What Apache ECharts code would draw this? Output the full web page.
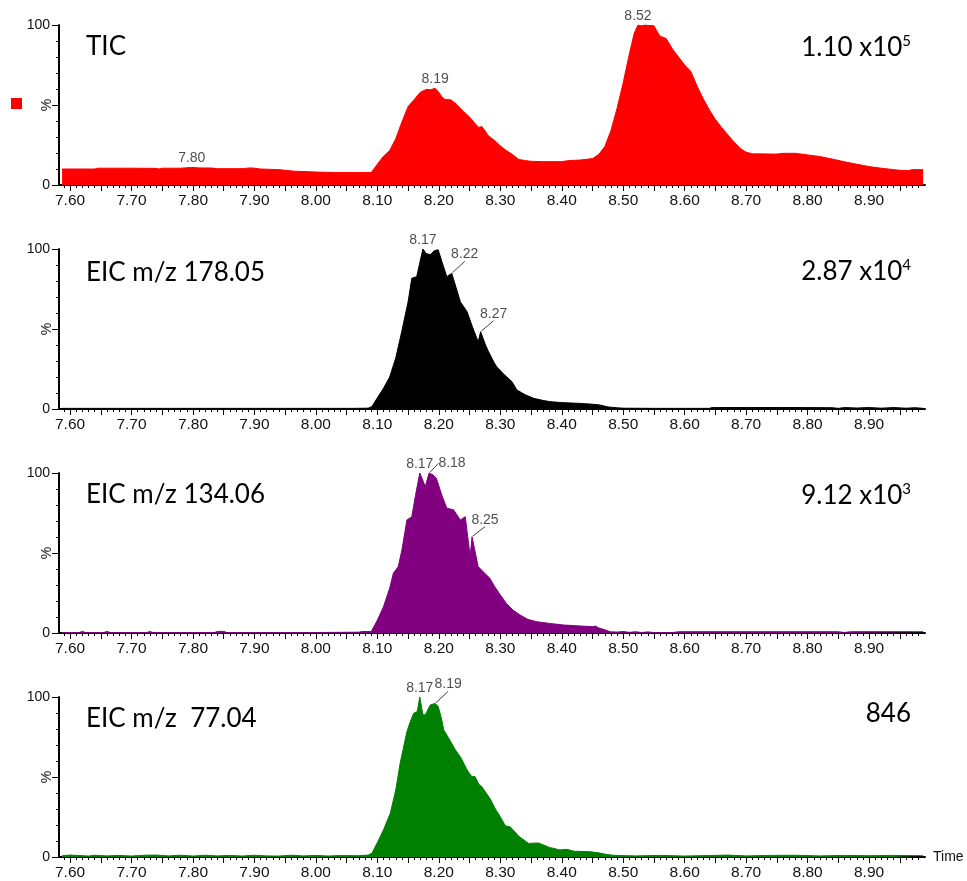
<!DOCTYPE html>
<html>
<head>
<meta charset="utf-8">
<script src="https://cdn.jsdelivr.net/npm/echarts@6/dist/echarts.min.js"></script>
<style>
  html, body { margin: 0; padding: 0; background: #ffffff; }
  #chart { width: 967px; height: 881px; }
</style>
</head>
<body>
<div id="chart"></div>
<script>
// ---- Chromatogram data (retention time in min, relative intensity in %) ----

const xLabelValues = [7.60, 7.70, 7.80, 7.90, 8.00, 8.10, 8.20, 8.30, 8.40, 8.50, 8.60, 8.70, 8.80, 8.90];

const panelTitles = ['TIC', 'EIC m/z 178.05', 'EIC m/z 134.06', 'EIC m/z  77.04'];
const intensityMantissa = ['1.10 x10', '2.87 x10', '9.12 x10', '846'];
const intensityExponent = ['5', '4', '3', ''];

// TIC
const ticTime = [7.587, 7.600, 7.640, 7.645, 7.700, 7.740, 7.745, 7.750, 7.780, 7.798, 7.810, 7.830, 7.840,
  7.880, 7.893, 7.900, 7.910, 7.940, 7.950, 7.965, 7.990, 8.000, 8.030, 8.060, 8.090, 8.100, 8.110, 8.120,
  8.130, 8.140, 8.150, 8.160, 8.170, 8.180, 8.186, 8.194, 8.200, 8.205, 8.210, 8.220, 8.230, 8.240, 8.250,
  8.260, 8.265, 8.270, 8.275, 8.280, 8.290, 8.300, 8.310, 8.320, 8.330, 8.340, 8.350, 8.370, 8.400, 8.410,
  8.430, 8.450, 8.460, 8.470, 8.480, 8.490, 8.500, 8.510, 8.518, 8.524, 8.530, 8.535, 8.550, 8.555, 8.560,
  8.570, 8.580, 8.590, 8.600, 8.610, 8.620, 8.630, 8.640, 8.650, 8.660, 8.670, 8.680, 8.690, 8.700, 8.710,
  8.750, 8.760, 8.780, 8.800, 8.820, 8.840, 8.860, 8.880, 8.900, 8.920, 8.940, 8.955, 8.965, 8.970, 8.988];
const ticValue = [10.0, 10.0, 10.0, 10.5, 10.5, 10.4, 10.0, 10.5, 10.5, 11.0, 10.7, 10.6, 10.2,
  10.2, 10.7, 10.5, 10.0, 9.6, 9.2, 8.6, 8.3, 8.1, 7.8, 7.8, 7.8, 13.0, 18.0, 21.5,
  29.0, 39.5, 49.0, 53.5, 58.0, 59.8, 59.5, 60.4, 58.0, 55.0, 53.5, 53.2, 50.0, 46.0, 42.5,
  38.0, 36.0, 36.5, 34.0, 31.0, 28.0, 24.5, 21.5, 19.0, 16.0, 15.3, 14.8, 14.6, 14.6, 15.2,
  15.6, 16.5, 19.0, 24.0, 34.0, 48.0, 64.0, 82.0, 95.0, 100.0, 99.5, 100.0, 99.5, 96.0, 93.0,
  91.5, 85.0, 80.0, 75.0, 71.0, 62.0, 54.0, 47.0, 41.0, 36.0, 31.5, 27.0, 23.0, 20.5, 19.5,
  19.3, 19.8, 19.8, 18.8, 17.8, 16.2, 14.5, 13.0, 11.5, 10.5, 9.6, 9.0, 9.0, 9.6, 9.6];
const ticPeakTime = [7.798, 8.194, 8.524];
const ticPeakValue = [11.0, 60.4, 100.0];

// EIC m/z 178.05
const eic178Time = [7.587, 7.650, 7.700, 7.800, 7.900, 8.000, 8.060, 8.085, 8.091, 8.100, 8.110, 8.120, 8.130,
  8.140, 8.150, 8.156, 8.164, 8.170, 8.174, 8.180, 8.186, 8.193, 8.199, 8.205, 8.213, 8.221, 8.228, 8.235,
  8.246, 8.255, 8.264, 8.268, 8.276, 8.281, 8.290, 8.294, 8.305, 8.315, 8.319, 8.327, 8.340, 8.354, 8.370,
  8.381, 8.400, 8.430, 8.450, 8.462, 8.475, 8.489, 8.500, 8.550, 8.640, 8.645, 8.700, 8.750, 8.800, 8.840,
  8.850, 8.860, 8.880, 8.900, 8.920, 8.940, 8.960, 8.975, 8.988];
const eic178Value = [0.4, 0.4, 0.4, 0.4, 0.4, 0.4, 0.4, 0.5, 1.5, 7.0, 13.0, 20.0, 32.0,
  49.0, 67.0, 81.7, 82.7, 93.0, 100.0, 97.0, 96.5, 99.0, 99.5, 92.0, 82.7, 84.8, 76.0, 67.0,
  60.8, 51.0, 42.0, 48.3, 40.0, 35.8, 29.0, 26.5, 22.0, 18.5, 17.1, 11.9, 9.0, 6.7, 5.3,
  4.6, 4.0, 3.5, 3.0, 2.5, 1.3, 0.8, 0.5, 0.4, 0.4, 0.9, 0.9, 0.9, 0.9, 0.8,
  0.4, 0.9, 0.6, 0.9, 0.5, 0.9, 0.5, 0.8, 0.4];
const eic178PeakTime = [8.174, 8.221, 8.268];
const eic178PeakValue = [100.0, 84.8, 48.3];

// EIC m/z 134.06
const eic134Time = [7.587, 7.615, 7.620, 7.625, 7.655, 7.660, 7.665, 7.725, 7.730, 7.735, 7.835, 7.840, 7.850,
  7.855, 8.000, 8.070, 8.075, 8.090, 8.092, 8.100, 8.110, 8.120, 8.126, 8.134, 8.140, 8.148, 8.156, 8.162,
  8.169, 8.178, 8.184, 8.190, 8.196, 8.205, 8.213, 8.224, 8.235, 8.243, 8.251, 8.254, 8.264, 8.273, 8.283,
  8.290, 8.300, 8.310, 8.320, 8.332, 8.345, 8.359, 8.380, 8.403, 8.430, 8.451, 8.455, 8.460, 8.470, 8.479,
  8.490, 8.500, 8.510, 8.520, 8.530, 8.540, 8.550, 8.580, 8.590, 8.850, 8.860, 8.870, 8.988];
const eic134Value = [0.3, 0.3, 1.0, 0.3, 0.3, 1.0, 0.3, 0.3, 0.9, 0.3, 0.3, 1.0, 1.0,
  0.3, 0.3, 0.5, 0.9, 0.9, 2.0, 8.0, 16.5, 28.0, 37.3, 41.5, 52.0, 70.6, 72.7, 86.0,
  100.0, 91.5, 99.8, 99.0, 96.7, 86.0, 78.0, 77.0, 70.6, 72.7, 47.7, 60.2, 41.5, 38.0, 34.2,
  29.5, 23.8, 18.5, 14.5, 11.3, 8.5, 7.1, 6.0, 5.0, 4.4, 3.9, 4.3, 3.2, 2.0, 0.8,
  0.6, 0.9, 0.4, 0.8, 0.3, 0.7, 0.3, 0.3, 0.8, 0.8, 0.3, 0.8, 0.8];
const eic134PeakTime = [8.169, 8.184, 8.254];
const eic134PeakValue = [100.0, 99.8, 60.2];

// EIC m/z 77.04
const eic77Time = [7.587, 7.600, 7.630, 7.640, 7.660, 7.680, 7.700, 7.720, 7.740, 7.760, 7.780, 7.800, 7.820,
  7.840, 7.860, 7.880, 7.900, 7.920, 7.940, 7.960, 7.980, 8.000, 8.020, 8.040, 8.070, 8.085, 8.091, 8.100,
  8.110, 8.121, 8.130, 8.137, 8.148, 8.153, 8.159, 8.165, 8.169, 8.174, 8.178, 8.186, 8.194, 8.199, 8.204,
  8.208, 8.218, 8.227, 8.236, 8.246, 8.253, 8.259, 8.265, 8.270, 8.277, 8.283, 8.292, 8.300, 8.308, 8.316,
  8.330, 8.346, 8.362, 8.380, 8.397, 8.408, 8.420, 8.446, 8.460, 8.470, 8.479, 8.490, 8.520, 8.560, 8.600,
  8.640, 8.670, 8.700, 8.740, 8.780, 8.820, 8.860, 8.900, 8.940, 8.988];
const eic77Value = [0.8, 1.2, 0.6, 1.1, 0.7, 1.0, 0.6, 1.1, 1.2, 0.7, 1.1, 0.6, 1.1,
  0.7, 1.0, 0.6, 1.1, 0.7, 0.6, 1.1, 0.7, 1.0, 0.6, 0.9, 0.8, 1.2, 2.3, 9.0,
  17.0, 27.3, 42.0, 58.5, 78.3, 84.0, 89.8, 91.0, 100.0, 89.0, 88.8, 95.0, 96.0, 94.0, 87.0,
  79.4, 73.0, 66.9, 62.0, 54.4, 50.5, 50.2, 45.5, 43.9, 40.0, 36.7, 30.0, 25.2, 19.5, 18.9,
  13.0, 8.5, 8.8, 6.0, 4.4, 4.8, 3.6, 3.3, 2.6, 1.8, 1.3, 0.9, 0.7, 1.0, 0.6,
  0.9, 1.2, 0.7, 1.0, 1.1, 0.7, 1.0, 0.8, 1.0, 0.8];
const eic77PeakTime = [8.169, 8.194];
const eic77PeakValue = [100.0, 96.0];

// ---- Layout & styling ----
const panels = [
  { time: ticTime, value: ticValue, peakT: ticPeakTime, peakV: ticPeakValue, color: '#ff0000', name: 'TIC' },
  { time: eic178Time, value: eic178Value, peakT: eic178PeakTime, peakV: eic178PeakValue, color: '#000000', name: 'EIC 178.05' },
  { time: eic134Time, value: eic134Value, peakT: eic134PeakTime, peakV: eic134PeakValue, color: '#800080', name: 'EIC 134.06' },
  { time: eic77Time, value: eic77Value, peakT: eic77PeakTime, peakV: eic77PeakValue, color: '#008000', name: 'EIC 77.04' }
];

// label nudges for peak annotations drawn with a leader line: [panel][peak] -> {dx, dy}
const peakLabelShift = [
  [null, null, null],
  [null, { dx: 13, dy: -10 }, { dx: 13, dy: -9 }],
  [null, { dx: 23, dy: -1 }, { dx: 13, dy: -8 }],
  [null, { dx: 13, dy: -10 }]
];

const gridTops = [25, 249, 473, 697];
const gridHeight = 160;
const gridLeft = 59;
const gridRight = 42;
const xMin = 7.582, xMax = 8.991;

const tickFont = '"Liberation Sans", Arial, sans-serif';
const titleFont = 'Lato, "Open Sans", sans-serif';
const textColor = '#111';

const majorTicks = [];
for (let i = 0; i <= 27; i++) majorTicks.push(+(7.60 + i * 0.05).toFixed(2));
const minorTicks = [];
for (let i = 0; i <= 139; i++) minorTicks.push(+(7.59 + i * 0.01).toFixed(2));

const grids = [], xAxes = [], yAxes = [], series = [], graphics = [];

panels.forEach((p, i) => {
  grids.push({ left: gridLeft, right: gridRight, top: gridTops[i], height: gridHeight, containLabel: false });

  xAxes.push({
    type: 'value', gridIndex: i, position: 'bottom', min: xMin, max: xMax,
    axisLine: { show: true, onZero: false, lineStyle: { color: '#000', width: 2 } },
    axisTick: { show: true, length: 6, customValues: majorTicks, lineStyle: { color: '#000', width: 1 } },
    axisLabel: {
      show: true, customValues: xLabelValues, margin: 8,
      formatter: v => v.toFixed(2),
      fontFamily: tickFont, fontSize: 15.5, color: textColor
    },
    splitLine: { show: false },
    name: i === 3 ? 'Time' : '', nameLocation: 'end', nameGap: 8,
    nameTextStyle: { fontFamily: tickFont, fontSize: 14, color: textColor, verticalAlign: 'middle' }
  });
  xAxes.push({
    type: 'value', gridIndex: i, position: 'bottom', min: xMin, max: xMax,
    axisLine: { show: false, onZero: false },
    axisTick: { show: true, length: 3, customValues: minorTicks, lineStyle: { color: '#000', width: 1 } },
    axisLabel: { show: false },
    splitLine: { show: false }
  });

  yAxes.push({
    type: 'value', gridIndex: i, position: 'left', min: 0, max: 100, interval: 50,
    axisLine: { show: true, lineStyle: { color: '#000', width: 2 } },
    axisTick: { show: true, length: 7, lineStyle: { color: '#000', width: 1 } },
    minorTick: { show: true, splitNumber: 5, length: 3, lineStyle: { color: '#000', width: 1 } },
    axisLabel: {
      margin: 9, fontFamily: tickFont, fontSize: 14, color: textColor,
      formatter: v => (v === 50 ? '' : String(v))
    },
    splitLine: { show: false },
    name: '%', nameLocation: 'middle', nameRotate: 90, nameGap: 5, nameMoveOverlap: false,
    nameTextStyle: { fontFamily: tickFont, fontSize: 14, color: textColor }
  });

  series.push({
    name: p.name, type: 'line', xAxisIndex: 2 * i, yAxisIndex: i,
    data: p.time.map((t, k) => [t, p.value[k]]),
    showSymbol: false, symbol: 'none', smooth: false, silent: true,
    lineStyle: { color: p.color, width: 1 },
    itemStyle: { color: p.color },
    areaStyle: { color: p.color, opacity: 1 }
  });

  series.push({
    type: 'scatter', xAxisIndex: 2 * i, yAxisIndex: i, silent: true,
    symbolSize: 2, itemStyle: { color: 'rgba(0,0,0,0)' },
    data: p.peakT.map((t, k) => {
      const shift = peakLabelShift[i][k];
      const item = { value: [t, p.peakV[k]] };
      if (shift) {
        item.labelLine = { show: true, lineStyle: { color: '#444', width: 1 } };
      }
      return item;
    }),
    label: {
      show: true, position: 'top', distance: 1,
      formatter: prm => prm.value[0].toFixed(2),
      fontFamily: tickFont, fontSize: 14, color: '#222'
    },
    labelLayout: prm => {
      const shift = peakLabelShift[i][prm.dataIndex];
      return shift ? { dx: shift.dx, dy: shift.dy } : {};
    },
    labelLine: { show: false, lineStyle: { color: '#444', width: 1 } }
  });

  // panel caption on the left
  graphics.push({
    type: 'text', left: 86, top: gridTops[i] + 9 + (i === 1 ? 2 : 0),
    style: { text: panelTitles[i], font: '26px ' + titleFont, fill: '#000' }
  });
  // base peak intensity on the right
  const expo = intensityExponent[i];
  graphics.push({
    type: 'text', right: 56, top: gridTops[i] + 9 + (i === 3 ? -5 : 0),
    style: {
      text: expo ? intensityMantissa[i] + '{s|' + expo + '}' : intensityMantissa[i],
      font: '26px ' + titleFont, fill: '#000',
      rich: { s: { fontSize: 15, fontFamily: 'Lato', fill: '#000', verticalAlign: 'top', padding: [0, 0, 12, 0] } }
    }
  });
});

const chart = echarts.init(document.getElementById('chart'), null, { renderer: 'canvas' });
chart.setOption({
  animation: false,
  backgroundColor: '#ffffff',
  legend: {
    data: [{ name: 'TIC', icon: 'rect' }],
    left: 11, top: 98, padding: 0, itemWidth: 11, itemHeight: 11, itemGap: 0,
    selectedMode: false, formatter: () => '',
    textStyle: { fontSize: 1 }
  },
  grid: grids,
  xAxis: xAxes,
  yAxis: yAxes,
  series: series,
  graphic: graphics
});
</script>
</body>
</html>
